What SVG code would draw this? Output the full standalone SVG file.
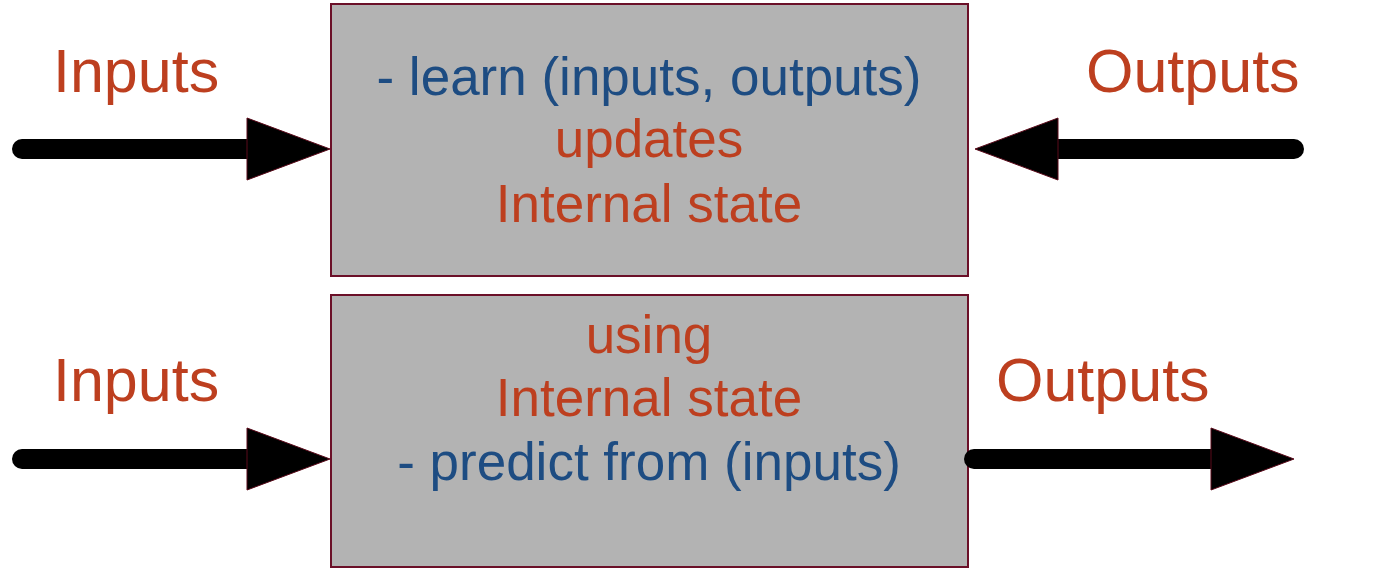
<svg xmlns="http://www.w3.org/2000/svg" width="1400" height="572" viewBox="0 0 1400 572">
<style>
.box{fill:#b3b3b3;stroke:#6b1028;stroke-width:2}
.lbl{font-family:"Liberation Sans",Arial,sans-serif;font-size:61px;fill:#bd3f1f}
.red{font-family:"Liberation Sans",Arial,sans-serif;font-size:53px;fill:#bd3f1f;text-anchor:middle}
.blue{font-family:"Liberation Sans",Arial,sans-serif;font-size:53px;fill:#1d4c82;text-anchor:middle}
.shaft{stroke:#000;stroke-width:20;stroke-linecap:round;fill:none}
</style>
<defs>
<marker id="head" markerUnits="userSpaceOnUse" markerWidth="86" markerHeight="66" refX="1" refY="32" orient="auto" viewBox="0 0 86 66">
<path d="M1,1 L84,32 L1,63 Z" fill="#000" stroke="#5a0a1a" stroke-width="1"/>
</marker>
</defs>
<rect width="1400" height="572" fill="#fff"/>
<g id="learn-box">
<rect class="box" x="331" y="4" width="637" height="272"/>
<text class="blue" x="649" y="95">- learn (inputs, outputs)</text>
<text class="red" x="649" y="157">updates</text>
<text class="red" x="649" y="222">Internal state</text>
</g>
<g id="predict-box">
<rect class="box" x="331" y="295" width="637" height="272"/>
<text class="red" x="649" y="353">using</text>
<text class="red" x="649" y="416">Internal state</text>
<text class="blue" x="649" y="480">- predict from (inputs)</text>
</g>
<g id="label-inputs-top"><text class="lbl" x="53" y="92">Inputs</text></g>
<g id="label-outputs-top"><text class="lbl" x="1086" y="92">Outputs</text></g>
<g id="label-inputs-bottom"><text class="lbl" x="53" y="401">Inputs</text></g>
<g id="label-outputs-bottom"><text class="lbl" x="996" y="401">Outputs</text></g>
<g id="connectors">
<line class="shaft" x1="22" y1="149" x2="247" y2="149" marker-end="url(#head)"/>
<line class="shaft" x1="1294" y1="149" x2="1058" y2="149" marker-end="url(#head)"/>
<line class="shaft" x1="22" y1="459" x2="247" y2="459" marker-end="url(#head)"/>
<line class="shaft" x1="974" y1="459" x2="1211" y2="459" marker-end="url(#head)"/>
</g>
</svg>
